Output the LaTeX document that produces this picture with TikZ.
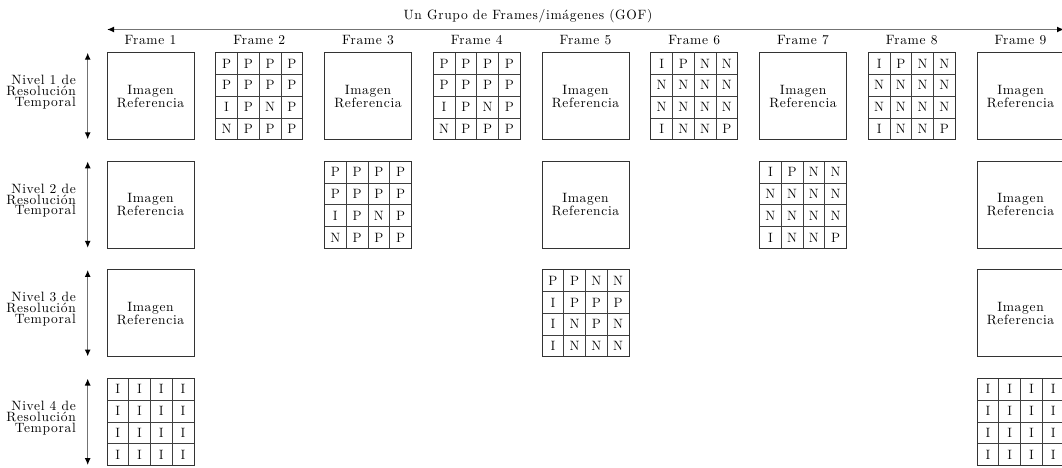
\documentclass[tikz,border=0pt]{standalone}
\usepackage{fontspec}
\usetikzlibrary{arrows.meta}
\newfontfamily\lmspaced{lmroman10-regular.otf}[LetterSpace=5]
\newcommand\spaced[1]{\lmspaced\fontsize{13.5}{#1}\selectfont}
\tikzset{
  lbl/.style={font=\spaced{11}, inner sep=0pt},
  rowlbl/.style={font=\spaced{10.8}, inner sep=0pt, align=right, anchor=east},
  refbox/.style={draw=black!80, line width=0.9pt, minimum size=87pt, inner sep=0pt, align=center, font=\spaced{12}},
  gridbox/.style={draw=black!80, line width=0.9pt, minimum size=87pt, inner sep=0pt},
  cell/.style={font=\fontsize{13.5}{12}\selectfont, inner sep=0pt},
  gline/.style={draw=black!75, line width=0.8pt},
  timearrow/.style={draw=black!55, line width=1.3pt, {Latex[color=black,length=7pt,width=6pt]}-{Latex[color=black,length=7pt,width=6pt]}},
}
\newcommand\refat[3]{% name, col, row
  \pgfmathsetmacro\xx{107+(#2-1)*108.75+43.5}
  \pgfmathsetmacro\yy{52.7+(#3-1)*108.6+43.5}
  \node[refbox] (#1) at (\xx,\yy) {Imagen\\Referencia};
}
\newcommand\gridat[4]{% name, col, row, letters
  \pgfmathsetmacro\xx{107+(#2-1)*108.75}
  \pgfmathsetmacro\yy{52.7+(#3-1)*108.6}
  \begin{scope}[shift={(\xx,\yy)}]
    \foreach \k in {1,2,3}{
      \draw[gline] (\k*21.75,0) -- (\k*21.75,87);
      \draw[gline] (0,\k*21.75) -- (87,\k*21.75);
    }
    \node[gridbox] (#1) at (43.5,43.5) {};
    \foreach \l [count=\i from 0] in {#4}{
      \pgfmathtruncatemacro\rr{div(\i,4)}
      \pgfmathtruncatemacro\cc{mod(\i,4)}
      \node[cell] (#1-\rr-\cc) at ({(\cc+0.5)*21.75},{(\rr+0.5)*21.75}) {\l};
    }
  \end{scope}
}
\begin{document}
\begin{tikzpicture}[x=1pt,y=-1pt]
\useasboundingbox (0,0) rectangle (1062,468);
% title and time arrow
\node[lbl, anchor=base] (title) at (528,20) {Un Grupo de Frames/im\'agenes (GOF)};
\coordinate (gl) at (107,29.5);
\coordinate (gr) at (1064,29.5);
\draw[timearrow] (gl) -- (gr);
% frame labels
\foreach \f in {1,...,9}{
  \pgfmathsetmacro\xx{107+(\f-1)*108.75+43.5}
  \node[lbl, anchor=base] (frame\f) at (\xx,44.5) {Frame \f};
}
% row labels and vertical arrows
\foreach \r in {1,...,4}{
  \pgfmathsetmacro\yy{52.7+(\r-1)*108.6}
  \node[rowlbl] (nivel\r) at (76,\yy+39.5) {Nivel \r\ de\\Resoluci\'on\\Temporal};
  \coordinate (vt\r) at (87.7,\yy);
  \coordinate (vb\r) at (87.7,\yy+86.6);
  \draw[timearrow] (vt\r) -- (vb\r);
}
% row 1
\refat{r1f1}{1}{1}
\gridat{r1f2}{2}{1}{P,P,P,P,P,P,P,P,I,P,N,P,N,P,P,P}
\refat{r1f3}{3}{1}
\gridat{r1f4}{4}{1}{P,P,P,P,P,P,P,P,I,P,N,P,N,P,P,P}
\refat{r1f5}{5}{1}
\gridat{r1f6}{6}{1}{I,P,N,N,N,N,N,N,N,N,N,N,I,N,N,P}
\refat{r1f7}{7}{1}
\gridat{r1f8}{8}{1}{I,P,N,N,N,N,N,N,N,N,N,N,I,N,N,P}
\refat{r1f9}{9}{1}
% row 2
\refat{r2f1}{1}{2}
\gridat{r2f3}{3}{2}{P,P,P,P,P,P,P,P,I,P,N,P,N,P,P,P}
\refat{r2f5}{5}{2}
\gridat{r2f7}{7}{2}{I,P,N,N,N,N,N,N,N,N,N,N,I,N,N,P}
\refat{r2f9}{9}{2}
% row 3
\refat{r3f1}{1}{3}
\gridat{r3f5}{5}{3}{P,P,N,N,I,P,P,P,I,N,P,N,I,N,N,N}
\refat{r3f9}{9}{3}
% row 4
\gridat{r4f1}{1}{4}{I,I,I,I,I,I,I,I,I,I,I,I,I,I,I,I}
\gridat{r4f9}{9}{4}{I,I,I,I,I,I,I,I,I,I,I,I,I,I,I,I}
\end{tikzpicture}
\end{document}
